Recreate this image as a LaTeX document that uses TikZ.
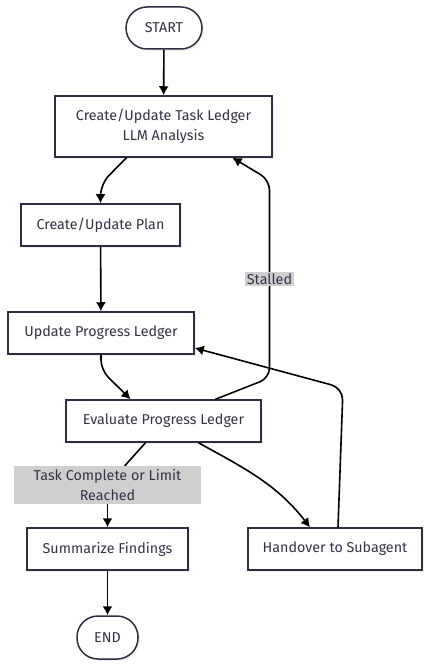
\documentclass[tikz,border=0pt]{standalone}
\usepackage{fontspec}
\setmainfont{Fira Sans}
\usetikzlibrary{shadows,arrows.meta}
\definecolor{boxline}{HTML}{2E2E40}
\definecolor{txt}{HTML}{333344}
\definecolor{lblgray}{HTML}{CFCFCF}

\begin{document}
\begin{tikzpicture}[x=1pt,y=-1pt,
  box/.style={draw=boxline,line width=1.5pt,fill=white,text=txt,
    font=\fontsize{14.3}{19.5}\selectfont,align=center,
    minimum height=42pt,inner sep=0pt,
    drop shadow={opacity=0.12,shadow xshift=2pt,shadow yshift=-2pt}},
  term/.style={box,rounded corners=21pt},
  lbl/.style={fill=lblgray,text=txt,font=\fontsize{14.3}{19.5}\selectfont,
    align=center,inner xsep=2pt,inner ysep=1.5pt,sharp corners},
  arr/.style={-{Latex[length=9pt,width=10pt]},line width=1.6pt}]
  \useasboundingbox (0,0) rectangle (432,668);

  % nodes
  \node[term,minimum width=76pt] (start) at (164,28) {START};
  \node[box,minimum width=217pt,minimum height=61pt] (tl) at (163.5,126.5)
    {Create/Update Task Ledger\\LLM Analysis};
  \node[box,minimum width=159pt] (plan) at (100.5,225) {Create/Update Plan};
  \node[box,minimum width=186pt] (upd) at (101,333) {Update Progress Ledger};
  \node[box,minimum width=195pt] (eval) at (163.5,421) {Evaluate Progress Ledger};
  \node[lbl,minimum width=187pt,minimum height=38pt] (done) at (107.5,485)
    {Task Complete or Limit\\Reached};
  \node[box,minimum width=161pt] (sum) at (107.5,549) {Summarize Findings};
  \node[box,minimum width=174pt] (ho) at (335,549) {Handover to Subagent};
  \node[term,minimum width=61pt,minimum height=43pt] (end) at (107.5,637.5) {END};

  % edges
  \draw[arr] (start) -- (tl);
  \draw[arr,rounded corners=12pt] ([xshift=-37pt]tl.south) -- (100.5,184) -- (plan.north);
  \draw[arr] (plan) -- (upd);
  \draw[arr,rounded corners=10pt] (upd.south) -- (101,370) -- ([xshift=-33pt]eval.north);
  \draw[arr,rounded corners=10pt] ([xshift=52pt]eval.north) -- (269.5,378)
    -- node[lbl] {Stalled} (269.5,180) -- ([xshift=69pt]tl.south);
  \draw[arr] ([xshift=35pt]eval.south) to[out=-29,in=128] ([xshift=-25pt]ho.north);
  \draw[line width=1.6pt] ([xshift=-18pt]eval.south) -- (done);
  \draw[arr] (done) -- (sum);
  \draw[arr,rounded corners=12pt] ([xshift=3pt]ho.north) -- (343,388)
    -- ([yshift=-15pt]upd.east);
  \draw[arr] (sum) -- (end);
\end{tikzpicture}
\end{document}
